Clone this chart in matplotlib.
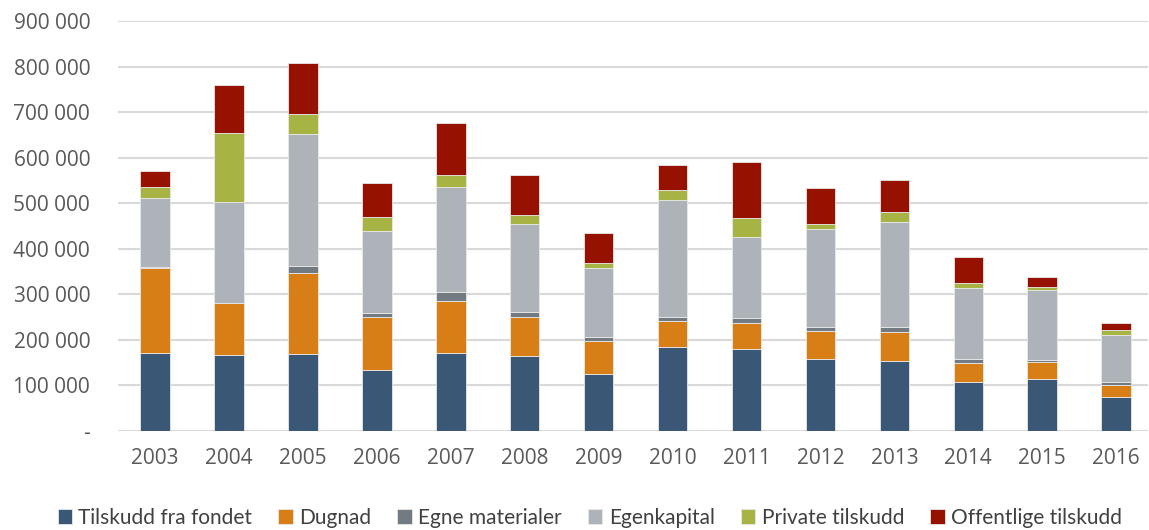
import matplotlib.pyplot as plt
import numpy as np

years = [str(y) for y in range(2003, 2017)]

# values (NOK)
tilskudd_fondet = [172000, 167000, 170000, 135000, 172000, 164500, 126000, 184000, 180000, 159000, 153000, 108000, 115000, 75000]
dugnad = [186000, 113000, 177000, 115000, 114000, 86000, 71000, 57000, 57000, 60000, 65000, 42000, 36000, 27000]
egne_materialer = [2000, 2000, 15000, 9000, 19000, 11000, 10000, 10000, 11000, 10000, 10000, 9000, 5000, 6000]
egenkapital = [152000, 220000, 291000, 181000, 230000, 193000, 150000, 256000, 177000, 215000, 231000, 155000, 153000, 102000]
private_tilskudd = [23000, 152000, 42000, 29000, 26000, 19000, 12000, 21000, 43000, 11000, 21000, 11000, 7000, 11000]
offentlige_tilskudd = [35000, 105000, 112000, 75000, 115000, 89000, 65000, 55000, 122000, 79000, 70000, 57000, 22000, 17000]

series = [
    ("Tilskudd fra fondet", tilskudd_fondet, "#3A5875"),
    ("Dugnad", dugnad, "#D77E17"),
    ("Egne materialer", egne_materialer, "#737B82"),
    ("Egenkapital", egenkapital, "#ADB3B9"),
    ("Private tilskudd", private_tilskudd, "#A7B342"),
    ("Offentlige tilskudd", offentlige_tilskudd, "#961100"),
]

plt.rcParams["font.family"] = ["Open Sans", "DejaVu Sans"]

fig = plt.figure(figsize=(11.49, 5.30), dpi=100)
ax = fig.add_axes([118 / 1149, 99 / 530, 1030 / 1149, 410 / 530])

x = np.arange(len(years))
bottom = np.zeros(len(years))
for label, values, color in series:
    ax.bar(x, values, width=0.4, bottom=bottom, color=color, label=label,
           edgecolor="#e8e8e8", linewidth=0.6, zorder=3)
    bottom += np.array(values)

ax.set_xlim(-0.5, 13.43)
ax.set_ylim(0, 900000)
ax.set_yticks(range(0, 900001, 100000))
ax.set_yticklabels(["-"] + [f"{v:,}".replace(",", " ") for v in range(100000, 900001, 100000)])
ax.set_xticks(x)
ax.set_xticklabels(years)

ax.grid(axis="y", color="#d9d9d9", linewidth=1.5, zorder=0)
for side in ["top", "right", "left", "bottom"]:
    ax.spines[side].set_visible(False)
ax.tick_params(axis="y", length=0, pad=20, labelsize=15, labelcolor="#595959")
ax.tick_params(axis="x", length=0, pad=12, labelsize=15, labelcolor="#595959")

ax.legend(loc="center", bbox_to_anchor=(0.458, -0.212), ncol=6, frameon=False,
          prop={"family": ["Lato", "DejaVu Sans"], "size": 15},
          handlelength=0.7, handleheight=0.7, handletextpad=0.3,
          columnspacing=1.25, labelcolor="#404040")

fig.savefig("out.png", dpi=100)
